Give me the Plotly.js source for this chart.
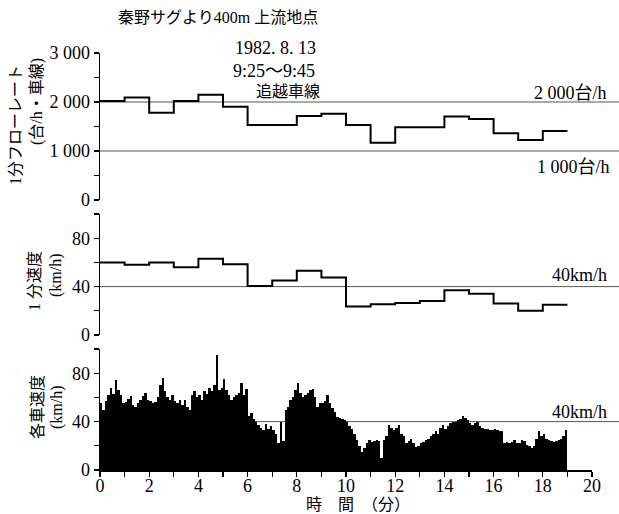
<!DOCTYPE html>
<html><head><meta charset="utf-8">
<script src="https://cdn.plot.ly/plotly-3.0.1.min.js"></script>
<style>html,body{margin:0;padding:0;background:#fff}#chart{width:619px;height:514px}</style>
</head><body><div id="chart"></div>
<script>
// ---- data ----
const minuteStarts = [0,1,2,3,4,5,6,7,8,9,10,11,12,13,14,15,16,17,18];
const flowRate = [2020,2090,1780,2020,2150,1905,1530,1530,1715,1760,1530,1170,1485,1485,1705,1655,1360,1225,1410];
const minuteSpeed = [60,58,60,56,63,58.5,40.5,45,53,47.5,23.5,25.5,26.5,28,37,34,26,20,25];
const sampleStep = 0.1; // minutes per sample of individual vehicle speeds
const vehicleSpeed = [
 55,50,57,62,68,63,74,66,62,55,
 56,59,61,54,52,55,58,61,64,58,
 57,55,56,60,70,76,65,60,58,62,
 57,55,58,54,58,52,50,62,65,60,
 62,58,65,63,68,65,70,95,66,68,
 75,66,62,58,60,62,64,72,62,67,
 45,47,42,40,37,35,33,38,34,36,
 33,30,22,40,24,50,52,58,60,66,
 72,64,60,62,64,66,67,60,52,55,
 55,57,62,55,51,48,44,43,42,41,
 40,36,34,30,25,20,15,18,22,25,
 23,24,25,24,10,25,28,37,35,33,
 35,37,30,28,22,24,26,22,19,20,
 22,23,25,26,28,30,32,30,35,37,
 34,36,39,40,40,41,42,45,43,41,
 39,37,39,40,36,35,34,34,33,33,
 34,33,32,32,22,23,22,23,25,22,
 22,25,24,21,20,18,20,26,32,28,
 30,26,25,24,23,24,25,26,28,33
];
const flowRefs = [2000, 1000];
const speedRef = 40;
const flowTickVals = [0,500,1000,1500,2000,2500,3000];
const flowTickText = ['0','','1 000','','2 000','','3 000'];
const speedTickVals = [0,20,40,60,80,100];
const speedTickText = ['0','','40','','80',''];
const timeTickVals = [0,1,2,3,4,5,6,7,8,9,10,11,12,13,14,15,16,17,18,19,20];
const timeTickText = ['0','','2','','4','','6','','8','','10','','12','','14','','16','','18','','20'];

// ---- geometry helpers (pixel -> paper) ----
const L=100, R=27, T=53, B=44, W=619, H=514;
const pw = W-L-R, ph = H-T-B;
const xp = px => (px-L)/pw;
const yp = py => (H-B-py)/ph;

const FONT = '"Liberation Serif", "Noto Sans CJK JP", serif';

const stepX = minuteStarts.concat([minuteStarts[minuteStarts.length-1]+1]);
const flowY = flowRate.concat([flowRate[flowRate.length-1]]);
const speedY = minuteSpeed.concat([minuteSpeed[minuteSpeed.length-1]]);
const vehX = vehicleSpeed.map((v,i)=> i*sampleStep + sampleStep/2);

const traces = [
  {x: stepX, y: flowY, type:'scatter', mode:'lines', line:{shape:'hv', color:'#000', width:2}, xaxis:'x', yaxis:'y', hoverinfo:'skip'},
  {x: stepX, y: speedY, type:'scatter', mode:'lines', line:{shape:'hv', color:'#000', width:2}, xaxis:'x2', yaxis:'y2', hoverinfo:'skip'},
  {x: vehX, y: vehicleSpeed, type:'bar', width: sampleStep, marker:{color:'#000', line:{width:0}}, xaxis:'x3', yaxis:'y3', hoverinfo:'skip'}
];

const yBase = {showline:true, linecolor:'#000', linewidth:1.5, ticks:'outside', ticklen:5, tickwidth:1.2, tickcolor:'#000',
  showgrid:false, zeroline:false, tickfont:{family:FONT, size:18, color:'#000'}, fixedrange:true, tickmode:'array'};
const xHidden = {range:[0,20], visible:false, showgrid:false, zeroline:false};

const shapes = [];
flowRefs.forEach(v => shapes.push({type:'line', xref:'paper', yref:'y', x0:0, x1:xp(619), y0:v, y1:v, line:{color:'#555', width:1}, layer:'below'}));
shapes.push({type:'line', xref:'paper', yref:'y2', x0:0, x1:xp(619), y0:speedRef, y1:speedRef, line:{color:'#555', width:1}, layer:'below'});
shapes.push({type:'line', xref:'paper', yref:'y3', x0:0, x1:xp(619), y0:speedRef, y1:speedRef, line:{color:'#555', width:1}, layer:'below'});

function ann(text, px, py, opts){
  return Object.assign({text:text, xref:'paper', yref:'paper', x:xp(px), y:yp(py), showarrow:false,
    xanchor:'center', yanchor:'middle', font:{family:FONT, size:16, color:'#000'}}, opts||{});
}
const annotations = [
  ann('秦野サグより400m 上流地点', 218, 17, {font:{family:FONT, size:16, color:'#000'}}),
  ann('1982. 8. 13', 275, 48, {font:{family:FONT, size:18, color:'#000'}}),
  ann('9:25～9:45', 274, 71, {font:{family:FONT, size:18, color:'#000'}}),
  ann('追越車線', 288, 91, {font:{family:FONT, size:16, color:'#000'}}),
  ann('2 000台/h', 609, 93, {xanchor:'right', font:{family:FONT, size:18, color:'#000'}}),
  ann('1 000台/h', 612, 167, {xanchor:'right', font:{family:FONT, size:18, color:'#000'}}),
  ann('40km/h', 609, 275, {xanchor:'right', font:{family:FONT, size:18, color:'#000'}}),
  ann('40km/h', 609, 412, {xanchor:'right', font:{family:FONT, size:18, color:'#000'}}),
  ann('1分フローレート', 15, 125, {textangle:-90}),
  ann('(台/h・車線)', 37, 102, {textangle:-90}),
  ann('1 分速度', 34, 281, {textangle:-90}),
  ann('(km/h)', 56, 275, {textangle:-90}),
  ann('各車速度', 37, 407, {textangle:-90}),
  ann('(km/h)', 57, 407, {textangle:-90}),
  ann('時　間　（分）', 358, 505, {font:{family:FONT, size:16, color:'#000'}})
];

const layout = {
  width:W, height:H, margin:{l:L, r:R, t:T, b:B}, autosize:false,
  paper_bgcolor:'#fff', plot_bgcolor:'rgba(0,0,0,0)', showlegend:false, bargap:0,
  font:{family:FONT, color:'#000', size:16},
  xaxis: Object.assign({domain:[0,1], anchor:'y'}, xHidden),
  xaxis2: Object.assign({domain:[0,1], anchor:'y2'}, xHidden),
  xaxis3: {domain:[0,1], anchor:'y3', range:[0,20], showline:true, linecolor:'#000', linewidth:1.5,
    ticks:'outside', ticklen:5, tickwidth:1.2, tickcolor:'#000', showgrid:false, zeroline:false,
    tickmode:'array', tickvals:timeTickVals, ticktext:timeTickText, tickfont:{family:FONT, size:18, color:'#000'},
    ticklabelstandoff:-6, fixedrange:true},
  yaxis: Object.assign({domain:[yp(200), yp(53)], anchor:'x', range:[0,3000], tickvals:flowTickVals, ticktext:flowTickText}, yBase),
  yaxis2: Object.assign({domain:[yp(335), yp(214)], anchor:'x2', range:[0,100], tickvals:speedTickVals, ticktext:speedTickText}, yBase),
  yaxis3: Object.assign({domain:[0, yp(349)], anchor:'x3', range:[0,100], tickvals:speedTickVals, ticktext:speedTickText}, yBase),
  shapes: shapes,
  annotations: annotations
};

Plotly.newPlot('chart', traces, layout, {displayModeBar:false, staticPlot:true});
</script>
</body></html>
